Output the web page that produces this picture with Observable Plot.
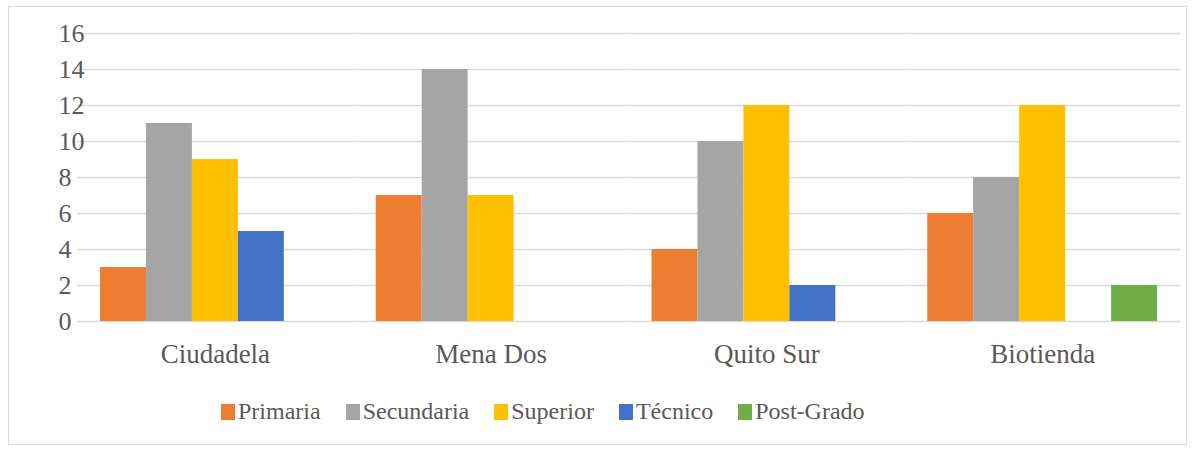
<!DOCTYPE html>
<html>
<head>
<meta charset="utf-8">
<script src="https://cdn.jsdelivr.net/npm/d3@7"></script>
<script src="https://cdn.jsdelivr.net/npm/@observablehq/plot@0.6"></script>
<style>
  body { margin: 0; background: #fff; font-family: "Liberation Serif", serif; }
  .serif { font-family: 'Liberation Serif'; }
</style>
</head>
<body>
<div id="frame" style="position:absolute;left:8px;top:6px;width:1179px;height:439px;border:1px solid #d9d9d9;box-sizing:border-box;"></div>
<div id="chart" style="position:absolute;left:0;top:0;"></div>
<div id="legend" class="serif" style="position:absolute;left:221px;top:398px;display:flex;align-items:center;font-size:24px;color:#595959;white-space:nowrap;font-family:'Liberation Serif'"></div>
<script>
const categories = ["Ciudadela", "Mena Dos", "Quito Sur", "Biotienda"];
const seriesNames = ["Primaria", "Secundaria", "Superior", "Técnico", "Post-Grado"];
const seriesColors = ["#ED7D31", "#A5A5A5", "#FFC000", "#4472C4", "#70AD47"];
const primaria = [3, 7, 4, 6];
const secundaria = [11, 14, 10, 8];
const superior = [9, 7, 12, 12];
const tecnico = [5, 0, 2, 0];
const postGrado = [0, 0, 0, 2];
const yTicks = [0, 2, 4, 6, 8, 10, 12, 14, 16];

const seriesValues = [primaria, secundaria, superior, tecnico, postGrado];
const data = [];
categories.forEach((c, i) => {
  seriesNames.forEach((s, j) => {
    data.push({category: c, series: s, value: seriesValues[j][i]});
  });
});

const chart = Plot.plot({
  width: 1198,
  height: 380,
  marginTop: 33,
  marginBottom: 59,
  marginLeft: 77,
  marginRight: 18,
  style: {fontFamily: "Liberation Serif", background: "transparent"},
  fx: {domain: categories, paddingInner: 1/6, paddingOuter: 1/12, round: false, label: null},
  x: {domain: seriesNames, padding: 0, round: false, axis: null},
  y: {domain: [0, 16], ticks: yTicks, label: null},
  color: {domain: seriesNames, range: seriesColors},
  marks: [
    Plot.ruleY(yTicks, {y: d => d, stroke: "#d9d9d9", strokeWidth: 1.5, insetLeft: -23, insetRight: -23}),
    Plot.barY(data, {fx: "category", x: "series", y: "value", fill: "series"}),
    Plot.axisY({ticks: yTicks, tickSize: 0, tickPadding: 42, textAnchor: "start", fontSize: 26, fill: "#595959", label: null}),
    Plot.axisFx({anchor: "bottom", tickSize: 0, tickPadding: 22, fontSize: 27, fill: "#595959", label: null})
  ]
});
document.getElementById("chart").appendChild(chart);

document.getElementById("legend").innerHTML = seriesNames.map((s, j) =>
  '<div style="display:flex;align-items:center;margin-right:25px">' +
  '<div style="width:14px;height:16px;margin-right:3px;background:' + seriesColors[j] + '"></div>' +
  '<span style="font-family:\'Liberation Serif\'">' + s + '</span></div>'
).join("");
</script>
</body>
</html>
